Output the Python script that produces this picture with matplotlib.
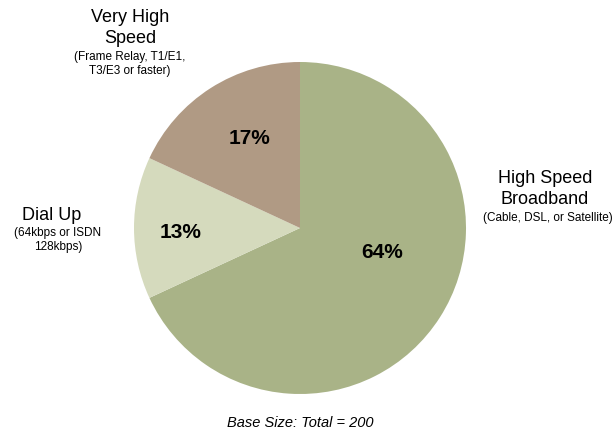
import matplotlib.pyplot as plt

plt.rcParams['font.family'] = ['Liberation Sans', 'DejaVu Sans']

# Share of connection types (percent)
segments = ["High Speed Broadband", "Dial Up", "Very High Speed"]
shares = [64, 13, 17]
colors = ["#A9B387", "#D5DABD", "#B09A84"]
titles = ["High Speed\nBroadband", "Dial Up", "Very High\nSpeed"]
details = ["(Cable, DSL, or Satellite)", "(64kbps or ISDN\n128kbps)",
           "(Frame Relay, T1/E1,\nT3/E3 or faster)"]

W, H = 615, 433
fig = plt.figure(figsize=(W / 100, H / 100), dpi=100)
ax = fig.add_axes([0, 0, 1, 1])

cx, cy, r = 300, H - 228, 166
ax.pie(shares, colors=colors, startangle=90, counterclock=False,
       center=(cx, cy), radius=r, frame=True,
       wedgeprops=dict(linewidth=0))
ax.set_xlim(0, W)
ax.set_ylim(0, H)
ax.set_aspect("equal")
ax.axis("off")

# percentage labels inside the slices
pct_pos = [(382, 252), (181, 232), (250, 139)]
for v, (x, y) in zip(shares, pct_pos):
    ax.text(x, H - y, f"{v}%", ha="center", va="center",
            fontsize=15, fontweight="bold")

# category labels outside the pie
title_pos = [(545, 189), (52, 215), (130, 28)]
detail_pos = [(548, 218), (58, 240), (130, 64)]
for t, d, (tx, ty), (dx, dy) in zip(titles, details, title_pos, detail_pos):
    ax.text(tx, H - ty, t, ha="center", va="center", fontsize=13,
            linespacing=1.3)
    ax.text(dx, H - dy, d, ha="center", va="center", fontsize=8.5,
            linespacing=1.2)

ax.text(300, H - 423, "Base Size: Total = 200", ha="center", va="center",
        fontsize=10.5, style="italic")

fig.savefig("out.png", dpi=100)
